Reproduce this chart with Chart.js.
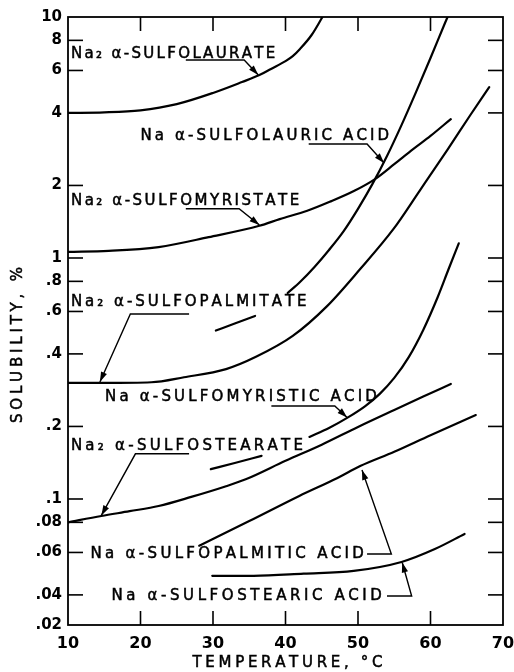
<!DOCTYPE html>
<html><head><meta charset="utf-8">
<script src="https://cdn.jsdelivr.net/npm/chart.js@4.4.1/dist/chart.umd.min.js"></script>
<style>html,body{margin:0;padding:0;background:#fff;}canvas{display:block;}</style>
</head><body>
<canvas id="c" width="514" height="672"></canvas>
<script>
// ---- tick values / labels ----
const xTicks = [10, 20, 30, 40, 50, 60, 70];
const yTickValues = [10, 8, 6, 4, 2, 1, 0.8, 0.6, 0.4, 0.2, 0.1, 0.08, 0.06, 0.04, 0.03];
const yTickLabels = ['10', '8', '6', '4', '2', '1', '.8', '.6', '.4', '.2', '.1', '.08', '.06', '.04', '.02'];
const xTitle = 'TEMPERATURE, °C';
const yTitle = 'SOLUBILITY, %';

// ---- series (temperature °C, solubility %) ----
const seriesNames = [
  'Na₂ α-SULFOLAURATE',
  'Na α-SULFOLAURIC ACID',
  'Na₂ α-SULFOMYRISTATE',
  'Na₂ α-SULFOPALMITATE',
  'Na α-SULFOMYRISTIC ACID',
  'Na₂ α-SULFOSTEARATE',
  'Na α-SULFOPALMITIC ACID',
  'Na α-SULFOSTEARIC ACID'
];
const na2LaurateT = [10, 15, 20, 25, 30, 34, 36.4, 38, 40, 41, 42, 43.6, 45.1];
const na2LaurateS = [4.0, 4.02, 4.1, 4.35, 4.84, 5.37, 5.74, 6.09, 6.56, 6.88, 7.37, 8.42, 10];

const lauricAcidT = [30.4, 33, 35.8, 38, 40.3, 42, 44, 46, 48, 50, 52, 54, 56, 58, 60, 62, 63];
const lauricAcidS = [0.50, 0.535, 0.575, null, 0.716, 0.795, 0.918, 1.08, 1.29, 1.6, 2.03, 2.65, 3.56, 4.88, 6.76, 9.44, 11.1];

const na2MyristateT = [10, 15.6, 22.5, 29.4, 36.4, 39.2, 43, 46.1, 49.5, 52.4, 55, 57.6, 60, 62.8];
const na2MyristateS = [1.06, 1.07, 1.11, 1.22, 1.36, 1.45, 1.57, 1.71, 1.9, 2.13, 2.45, 2.83, 3.21, 3.77];

const na2PalmitateT = [10, 15, 21.5, 26, 31.8, 36, 41, 45.7, 50.3, 54.9, 58.5, 62.4, 65.5, 68.1];
const na2PalmitateS = [0.303, 0.303, 0.305, 0.32, 0.346, 0.39, 0.475, 0.63, 0.9, 1.32, 1.9, 2.83, 3.92, 5.12];

const myristicAcidT = [29.7, 33, 36.7, 40, 43.3, 46, 48.5, 51, 53, 55, 57, 59, 61, 62.5, 63.9];
const myristicAcidS = [0.133, 0.141, 0.151, null, 0.181, 0.197, 0.217, 0.243, 0.273, 0.318, 0.388, 0.503, 0.689, 0.9, 1.15];

const na2StearateT = [10, 14.6, 18.5, 22.5, 27, 31.8, 34.6, 40, 45, 50, 55, 59, 62.8];
const na2StearateS = [0.08, 0.085, 0.089, 0.0935, 0.102, 0.113, 0.121, 0.144, 0.168, 0.199, 0.234, 0.266, 0.30];

const palmiticAcidT = [28.1, 35, 41.9, 47.1, 50.3, 55, 60, 66.25];
const palmiticAcidS = [0.064, 0.081, 0.103, 0.122, 0.137, 0.157, 0.184, 0.223];

const stearicAcidT = [29.9, 35.6, 42.5, 49.4, 56, 60.6, 64.7];
const stearicAcidS = [0.048, 0.048, 0.049, 0.0503, 0.0548, 0.062, 0.0716];

const seriesT = [na2LaurateT, lauricAcidT, na2MyristateT, na2PalmitateT, myristicAcidT, na2StearateT, palmiticAcidT, stearicAcidT];
const seriesS = [na2LaurateS, lauricAcidS, na2MyristateS, na2PalmitateS, myristicAcidS, na2StearateS, palmiticAcidS, stearicAcidS];

// ---- label placement (data coordinates) ----
const labelLayout = [
  {x0: 10.4, x1: 38.6, y: 7.02,  leader: [[26.25, 6.63], [34.3, 6.63], [36.25, 5.75]]},
  {x0: 20.0, x1: 54.3, y: 3.21,  leader: [[43.2, 2.97], [51.25, 2.97], [53.6, 2.48]]},
  {x0: 10.4, x1: 41.9, y: 1.72,  leader: [[26.25, 1.6], [33.6, 1.6], [36.4, 1.37]]},
  {x0: 10.4, x1: 42.9, y: 0.657, leader: [[26.7, 0.586], [18.6, 0.586], [14.4, 0.306]]},
  {x0: 15.1, x1: 52.6, y: 0.265, leader: [[38.05, 0.243], [46.8, 0.243], [48.5, 0.218]]},
  {x0: 10.4, x1: 42.4, y: 0.166, leader: [[26.7, 0.154], [19.3, 0.154], [14.6, 0.0855]]},
  {x0: 13.1, x1: 50.8, y: 0.0591, leader: [[51.25, 0.0591], [54.6, 0.0591], [50.55, 0.132]]},
  {x0: 16.0, x1: 53.3, y: 0.0396, leader: [[54.0, 0.0396], [57.4, 0.0396], [56.1, 0.0545]]}
];

function spacedText(ctx, text, x0, x1, yc) {
  const chars = Array.from(text);
  const w = chars.map(c => ctx.measureText(c).width);
  const total = w.reduce((a, b) => a + b, 0);
  const gap = chars.length > 1 ? (x1 - x0 - total) / (chars.length - 1) : 0;
  let x = x0;
  chars.forEach((c, i) => { ctx.fillText(c, x, yc); ctx.strokeText(c, x, yc); x += w[i] + gap; });
}

function arrowPath(ctx, pts) {
  ctx.beginPath();
  ctx.moveTo(pts[0][0], pts[0][1]);
  for (let i = 1; i < pts.length; i++) ctx.lineTo(pts[i][0], pts[i][1]);
  ctx.stroke();
  const [px, py] = pts[pts.length - 2];
  const [tx, ty] = pts[pts.length - 1];
  const a = Math.atan2(ty - py, tx - px);
  const L = 10, W = 3.2;
  const c = Math.cos(a), s = Math.sin(a);
  ctx.beginPath();
  ctx.moveTo(tx, ty);
  ctx.lineTo(tx - L * c + W * s, ty - L * s - W * c);
  ctx.lineTo(tx - L * c - W * s, ty - L * s + W * c);
  ctx.closePath();
  ctx.fill();
}

const overlay = {
  id: 'overlay',
  afterDraw(chart) {
    const {ctx, chartArea: a, scales: {x, y}} = chart;
    ctx.save();
    ctx.strokeStyle = '#000';
    ctx.fillStyle = '#000';
    ctx.lineWidth = 1.8;
    ctx.strokeRect(a.left, a.top, a.right - a.left, a.bottom - a.top);
    const seg = (x1, y1, x2, y2) => { ctx.beginPath(); ctx.moveTo(x1, y1); ctx.lineTo(x2, y2); ctx.stroke(); };
    ctx.lineWidth = 1.6;
    yTickValues.forEach(v => {
      if (v >= y.max || v <= y.min) return;
      const p = y.getPixelForValue(v);
      seg(a.left, p, a.left + 15, p);
      seg(a.right - 15, p, a.right, p);
    });
    xTicks.forEach(v => {
      if (v <= x.min || v >= x.max) return;
      const p = x.getPixelForValue(v);
      seg(p, a.top, p, a.top + 14);
      seg(p, a.bottom - 14, p, a.bottom);
    });
    // curve labels + leaders
    ctx.font = '15px "DejaVu Sans"';
    ctx.textBaseline = 'middle';
    ctx.textAlign = 'left';
    labelLayout.forEach((L, i) => {
      ctx.lineWidth = 0.5;
      spacedText(ctx, seriesNames[i], x.getPixelForValue(L.x0), x.getPixelForValue(L.x1), y.getPixelForValue(L.y));
      ctx.lineWidth = 1.4;
      arrowPath(ctx, L.leader.map(p => [x.getPixelForValue(p[0]), y.getPixelForValue(p[1])]));
    });
    // axis titles
    ctx.lineWidth = 0.5;
    const cx = (a.left + a.right) / 2 + 2;
    spacedText(ctx, xTitle, cx - 95, cx + 95, a.bottom + 38);
    ctx.translate(a.left - 50, (a.top + a.bottom) / 2 + 24);
    ctx.rotate(-Math.PI / 2);
    spacedText(ctx, yTitle, -78, 78, 0);
    ctx.restore();
  }
};

const datasets = seriesNames.map((n, i) => ({
  label: n,
  data: seriesT[i].map((t, j) => ({x: t, y: seriesS[i][j]})),
  borderColor: '#000',
  borderWidth: 2.2,
  pointRadius: 0,
  fill: false,
  spanGaps: false,
  cubicInterpolationMode: 'monotone',
  borderCapStyle: 'round'
}));

new Chart(document.getElementById('c'), {
  type: 'line',
  data: {datasets},
  plugins: [overlay],
  options: {
    responsive: false,
    animation: false,
    devicePixelRatio: 1,
    layout: {padding: {top: 17, right: 0, left: 28, bottom: 0}},
    plugins: {legend: {display: false}, tooltip: {enabled: false}},
    scales: {
      x: {
        type: 'linear', min: 10, max: 70,
        afterBuildTicks: s => { s.ticks = xTicks.map(v => ({value: v})); },
        afterFit: s => { s.height = 47; s.paddingRight = 11; s.paddingLeft = 0; },
        grid: {display: false, drawTicks: false},
        border: {display: false},
        ticks: {color: '#000', font: {family: 'DejaVu Sans', size: 16, weight: 'bold'}, padding: 9, maxRotation: 0, autoSkip: false}
      },
      y: {
        type: 'logarithmic', min: 0.03, max: 10,
        afterBuildTicks: s => { s.ticks = yTickValues.map(v => ({value: v})); },
        afterFit: s => { s.width = 40; s.paddingTop = 0; s.paddingBottom = 0; },
        grid: {display: false, drawTicks: false},
        border: {display: false},
        ticks: {color: '#000', font: {family: 'DejaVu Sans', size: 15, weight: 'bold'}, padding: 6, autoSkip: false,
                callback: (v, i) => yTickLabels[i]}
      }
    }
  }
});
</script>
</body></html>
